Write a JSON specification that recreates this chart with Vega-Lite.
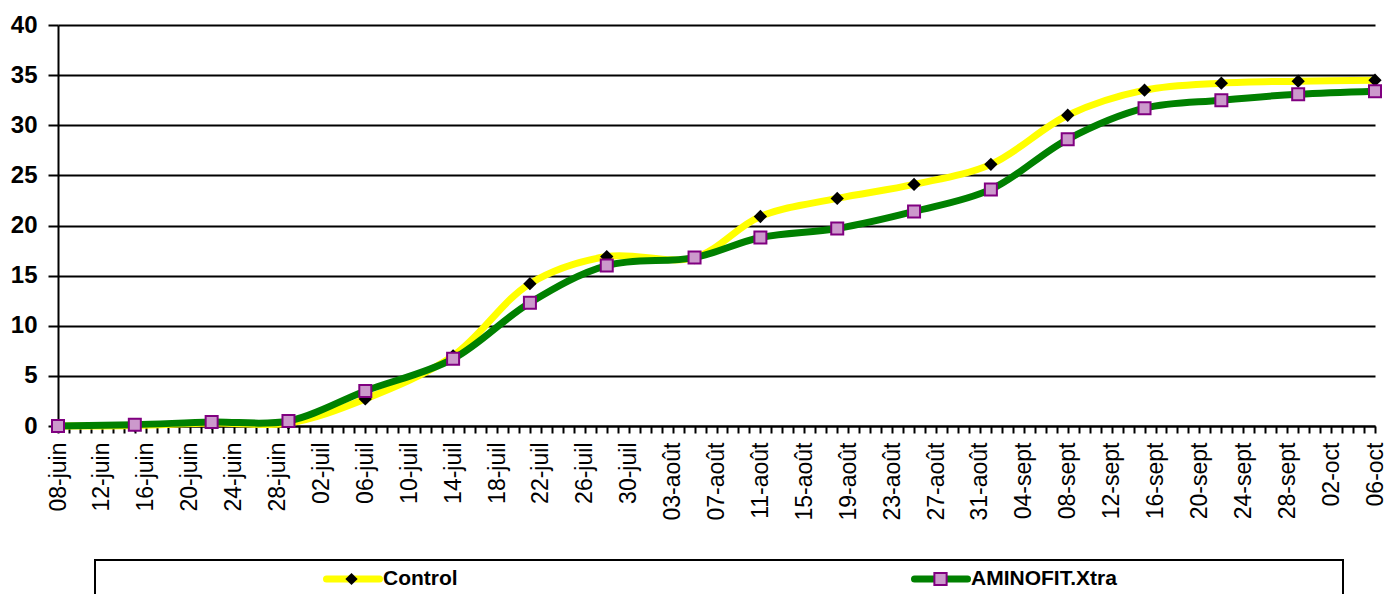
{
  "$schema": "https://vega.github.io/schema/vega-lite/v6.json",
  "autosize": "none",
  "width": 1317,
  "height": 401,
  "padding": {"left": 58, "top": 25, "right": 21, "bottom": 168},
  "background": "#ffffff",
  "config": {
    "view": {"stroke": null},
    "font": "Liberation Sans"
  },
  "data": {
    "values": [
      {"date": "2009-06-08", "serie": "Control", "value": 0},
      {"date": "2009-06-15", "serie": "Control", "value": 0.05},
      {"date": "2009-06-22", "serie": "Control", "value": 0.3},
      {"date": "2009-06-29", "serie": "Control", "value": 0.3},
      {"date": "2009-07-06", "serie": "Control", "value": 2.7},
      {"date": "2009-07-14", "serie": "Control", "value": 7.0},
      {"date": "2009-07-21", "serie": "Control", "value": 14.2},
      {"date": "2009-07-28", "serie": "Control", "value": 16.9},
      {"date": "2009-08-05", "serie": "Control", "value": 16.8},
      {"date": "2009-08-11", "serie": "Control", "value": 20.9},
      {"date": "2009-08-18", "serie": "Control", "value": 22.7},
      {"date": "2009-08-25", "serie": "Control", "value": 24.1},
      {"date": "2009-09-01", "serie": "Control", "value": 26.1},
      {"date": "2009-09-08", "serie": "Control", "value": 31.0},
      {"date": "2009-09-15", "serie": "Control", "value": 33.5},
      {"date": "2009-09-22", "serie": "Control", "value": 34.2},
      {"date": "2009-09-29", "serie": "Control", "value": 34.4},
      {"date": "2009-10-06", "serie": "Control", "value": 34.5},
      {"date": "2009-06-08", "serie": "AMINOFIT.Xtra", "value": 0},
      {"date": "2009-06-15", "serie": "AMINOFIT.Xtra", "value": 0.13},
      {"date": "2009-06-22", "serie": "AMINOFIT.Xtra", "value": 0.4},
      {"date": "2009-06-29", "serie": "AMINOFIT.Xtra", "value": 0.5},
      {"date": "2009-07-06", "serie": "AMINOFIT.Xtra", "value": 3.5},
      {"date": "2009-07-14", "serie": "AMINOFIT.Xtra", "value": 6.7},
      {"date": "2009-07-21", "serie": "AMINOFIT.Xtra", "value": 12.3},
      {"date": "2009-07-28", "serie": "AMINOFIT.Xtra", "value": 16.0},
      {"date": "2009-08-05", "serie": "AMINOFIT.Xtra", "value": 16.8},
      {"date": "2009-08-11", "serie": "AMINOFIT.Xtra", "value": 18.8},
      {"date": "2009-08-18", "serie": "AMINOFIT.Xtra", "value": 19.7},
      {"date": "2009-08-25", "serie": "AMINOFIT.Xtra", "value": 21.4},
      {"date": "2009-09-01", "serie": "AMINOFIT.Xtra", "value": 23.6},
      {"date": "2009-09-08", "serie": "AMINOFIT.Xtra", "value": 28.6},
      {"date": "2009-09-15", "serie": "AMINOFIT.Xtra", "value": 31.7},
      {"date": "2009-09-22", "serie": "AMINOFIT.Xtra", "value": 32.5},
      {"date": "2009-09-29", "serie": "AMINOFIT.Xtra", "value": 33.1},
      {"date": "2009-10-06", "serie": "AMINOFIT.Xtra", "value": 33.4}
    ]
  },
  "encoding": {
    "x": {
      "field": "date",
      "type": "temporal",
      "scale": {
        "type": "utc",
        "domain": [
          {"year": 2009, "month": 6, "date": 8, "utc": true},
          {"year": 2009, "month": 10, "date": 6, "utc": true}
        ],
        "nice": false
      },
      "axis": {
        "title": null,
        "grid": false,
        "tickCount": {"interval": "day", "step": 1},
        "labelExpr": "(round((datum.value - utc(2009, 5, 8)) / 86400000) % 4 == 0) ? utcFormat(datum.value, '%d') + '-' + ['janv', 'févr', 'mars', 'avr', 'mai', 'juin', 'juil', 'août', 'sept', 'oct', 'nov', 'déc'][utcmonth(datum.value)] : ''",
        "labelAngle": -90,
        "labelOverlap": false,
        "labelFlush": false,
        "labelFont": "Liberation Sans",
        "labelFontSize": 23,
        "labelColor": "#000000",
        "labelPadding": 9,
        "tickSize": 7,
        "tickWidth": 2,
        "tickColor": "#000000",
        "domainColor": "#000000",
        "domainWidth": 2
      }
    },
    "y": {
      "field": "value",
      "type": "quantitative",
      "scale": {"domain": [0, 40], "nice": false},
      "axis": {
        "title": null,
        "values": [0, 5, 10, 15, 20, 25, 30, 35, 40],
        "grid": true,
        "gridColor": "#000000",
        "gridWidth": 2,
        "gridOpacity": 1,
        "labelFont": "Liberation Sans",
        "labelFontSize": 24,
        "labelFontWeight": "bold",
        "labelColor": "#000000",
        "labelPadding": 11,
        "tickSize": 10,
        "tickWidth": 2,
        "tickColor": "#000000",
        "domainColor": "#000000",
        "domainWidth": 2
      }
    }
  },
  "layer": [
    {
      "transform": [{"filter": "datum.serie === 'Control'"}],
      "mark": {"type": "line", "interpolate": "catmull-rom", "strokeWidth": 7},
      "encoding": {
        "color": {
          "field": "serie",
          "type": "nominal",
          "scale": {"domain": ["Control", "AMINOFIT.Xtra"], "range": ["#FFFF00", "#008000"]},
          "legend": {
            "title": null,
            "orient": "none",
            "legendX": 37,
            "legendY": 535,
            "direction": "horizontal",
            "columns": 2,
            "columnPadding": 0,
            "padding": 8,
            "strokeColor": "#000000",
            "fillColor": "#ffffff",
            "symbolType": "stroke",
            "symbolSize": 2809,
            "symbolStrokeWidth": 7,
            "symbolOffset": 220,
            "labelOffset": 0,
            "clipHeight": 22,
            "labelFont": "Liberation Sans",
            "labelFontSize": 21,
            "labelFontWeight": "bold",
            "labelColor": "#000000",
            "labelLimit": 400,
            "zindex": 1,
            "encode": {
              "legend": {"update": {"strokeWidth": {"value": 2}}},
              "entries": {"update": {"width": {"signal": "datum.index === 0 ? 588 : 644"}}},
              "symbols": {"update": {"strokeCap": {"value": "round"}}}
            }
          }
        }
      }
    },
    {
      "transform": [{"filter": "datum.serie === 'Control'"}],
      "mark": {"type": "point", "filled": true, "size": 177, "strokeWidth": 0, "opacity": 1},
      "encoding": {
        "shape": {
          "field": "serie",
          "type": "nominal",
          "sort": "descending",
          "scale": {"range": ["diamond", "square"]},
          "legend": {
            "title": null,
            "orient": "none",
            "legendX": 37,
            "legendY": 535,
            "direction": "horizontal",
            "columns": 2,
            "columnPadding": 329,
            "padding": 8,
            "symbolSize": 150,
            "symbolStrokeWidth": 2,
            "symbolOffset": 241,
            "symbolOpacity": 1,
            "clipHeight": 22,
            "labelExpr": "''",
            "zindex": 2
          }
        },
        "fill": {
          "field": "serie",
          "type": "nominal",
          "sort": "descending",
          "scale": {"range": ["#000000", "#CC99CC"]}
        },
        "stroke": {
          "field": "serie",
          "type": "nominal",
          "sort": "descending",
          "scale": {"range": ["rgba(0,0,0,0)", "#800080"]}
        }
      }
    },
    {
      "transform": [{"filter": "datum.serie === 'AMINOFIT.Xtra'"}],
      "mark": {"type": "line", "interpolate": "catmull-rom", "strokeWidth": 7},
      "encoding": {
        "color": {"field": "serie", "type": "nominal"}
      }
    },
    {
      "transform": [{"filter": "datum.serie === 'AMINOFIT.Xtra'"}],
      "mark": {"type": "point", "filled": true, "size": 144, "strokeWidth": 2, "opacity": 1},
      "encoding": {
        "shape": {"field": "serie", "type": "nominal", "sort": "descending"},
        "fill": {"field": "serie", "type": "nominal", "sort": "descending"},
        "stroke": {"field": "serie", "type": "nominal", "sort": "descending"}
      }
    }
  ]
}
